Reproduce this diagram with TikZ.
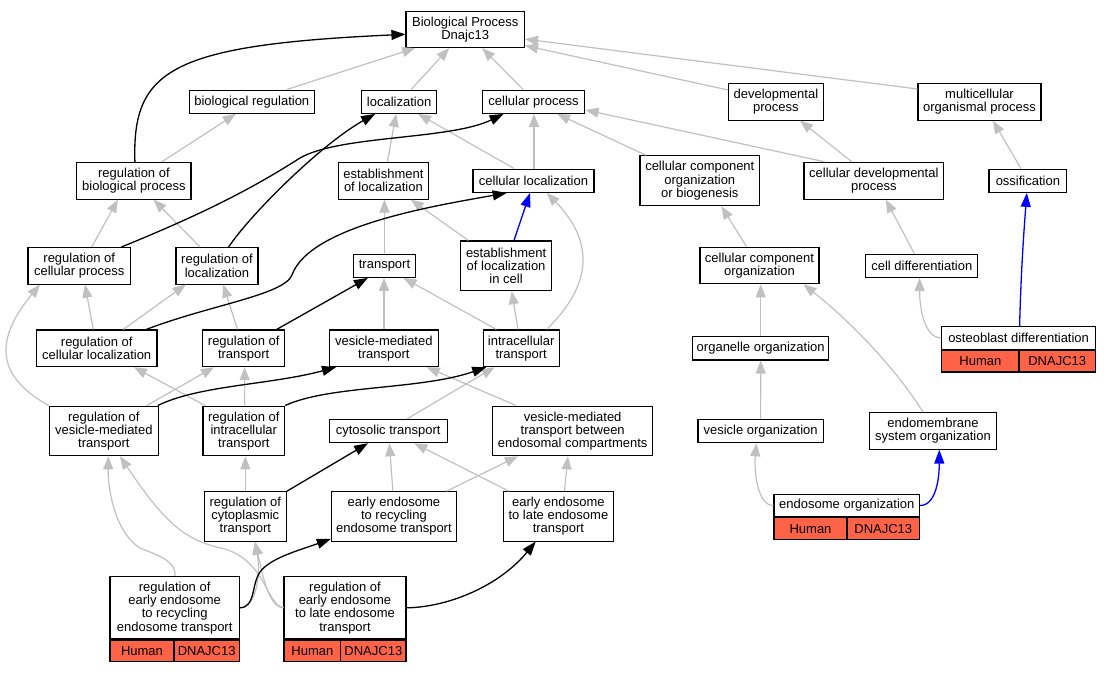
\documentclass[tikz,border=0pt]{standalone}
\usepackage{fontspec}
\setmainfont{Liberation Sans}
\usepackage{xcolor}
\usetikzlibrary{arrows.meta, calc}

\definecolor{isagray}{RGB}{192,192,192}
\definecolor{genered}{RGB}{255,99,71}

\begin{document}
\begin{tikzpicture}[x=1pt, y=-1pt,
    every node/.style={font=\fontsize{13}{13.2}\selectfont},
    term/.style 2 args={draw=black, line width=1.1pt, fill=white, align=center, inner sep=0pt, minimum width=#1, minimum height=#2},
    gene/.style={draw=black, line width=1.1pt, fill=genered, inner sep=0pt, minimum height=21.8},
    isa/.style={draw=isagray, line width=1.2pt, -{Triangle[length=13pt, width=10pt]}},
    reg/.style={draw=black, line width=1.3pt, -{Triangle[length=14pt, width=10pt]}},
    hit/.style={draw=blue, line width=1.3pt, -{Triangle[length=14pt, width=10pt]}}]

                \useasboundingbox (0,0) rectangle (1110,672);

                % terms
                \node[term={118.5}{35.8}] (bp) at (465.2,29.6) {Biological Process\\Dnajc13};
                \node[term={125}{23.3}] (bioreg) at (251.8,101.7) {biological regulation};
                \node[term={74.6}{23.3}] (loc) at (399.1,101.7) {localization};
                \node[term={101.4}{23.3}] (cellproc) at (533.6,101.7) {cellular process};
                \node[term={94.6}{36.7}] (devproc) at (775.9,101.7) {developmental\\process};
                \node[term={123}{36.7}] (multicell) at (979.5,101.7) {multicellular\\organismal process};

                \node[term={114.2}{36.7}] (regbio) at (133.9,180.7) {regulation of\\biological process};
                \node[term={90.4}{36.7}] (estloc) at (383.4,180.7) {establishment\\of localization};
                \node[term={121}{23.3}] (cellloc) at (533.5,180.7) {cellular localization};
                \node[term={119.6}{50}] (ccob) at (699.8,180.7) {cellular component\\organization\\or biogenesis};
                \node[term={139.6}{36.7}] (celldev) at (873.8,180.7) {cellular developmental\\process};
                \node[term={77.8}{23.3}] (ossif) at (1027.9,180.7) {ossification};

                \node[term={102.4}{36.5}] (regcellproc) at (79.2,265.8) {regulation of\\cellular process};
                \node[term={82}{36.5}] (regloc) at (217,265.8) {regulation of\\localization};
                \node[term={61.8}{23.3}] (transport) at (384.5,265.7) {transport};
                \node[term={90.8}{49.7}] (estlocin) at (506.1,265.8) {establishment\\of localization\\in cell};
                \node[term={119}{36.5}] (ccorg) at (759.5,265.5) {cellular component\\organization};
                \node[term={112.2}{23.3}] (celldiff) at (921.8,265.8) {cell differentiation};

                \node[term={120.6}{36.7}] (regcellloc) at (96.7,348.3) {regulation of\\cellular localization};
                \node[term={81.7}{36.7}] (regtransport) at (243.7,348.3) {regulation of\\transport};
                \node[term={108.9}{36.7}] (vesmed) at (383.8,348.3) {vesicle-mediated\\transport};
                \node[term={75.7}{36.7}] (intracell) at (521.2,348.3) {intracellular\\transport};
                \node[term={135.7}{23.3}] (orgorg) at (760.7,348.3) {organelle organization};

                \node[term={108.9}{49.7}] (regvesmed) at (103.8,430.9) {regulation of\\vesicle-mediated\\transport};
                \node[term={81.6}{49.7}] (regintracell) at (243.8,430.9) {regulation of\\intracellular\\transport};
                \node[term={117.7}{23.4}] (cytosolic) at (388.2,431) {cytosolic transport};
                \node[term={159.6}{49.7}] (vesbetween) at (572.7,430.9) {vesicle-mediated\\transport between\\endosomal compartments};
                \node[term={125.3}{23.4}] (vesorg) at (760.6,431) {vesicle organization};
                \node[term={126.8}{36.3}] (endomem) at (933,430.9) {endomembrane\\system organization};

                \node[term={82.1}{49.3}] (regcyto) at (245.3,516.4) {regulation of\\cytoplasmic\\transport};
                \node[term={125}{49.3}] (ee2rec) at (393.9,516.4) {early endosome\\to recycling\\endosome transport};
                \node[term={110.4}{49.3}] (ee2late) at (558.4,516.4) {early endosome\\to late endosome\\transport};

                % annotated terms
                \node[term={153.6}{22.3}] (osteo) at (1018.6,337.9) {osteoblast differentiation};
                \node[gene, minimum width=77.2, anchor=north west] (osteohuman) at (osteo.south west) {Human};
                \node[gene, minimum width=76.4, anchor=north east] (osteogene) at (osteo.south east) {DNAJC13};

                \node[term={145.6}{22.4}] (endoorg) at (846.8,505.5) {endosome organization};
                \node[gene, minimum width=73, anchor=north west] (endohuman) at (endoorg.south west) {Human};
                \node[gene, minimum width=72.6, anchor=north east] (endogene) at (endoorg.south east) {DNAJC13};

                \node[term={129.3}{62.3}] (regee2rec) at (174.65,607.85) {regulation of\\early endosome\\to recycling\\endosome transport};
                \node[gene, minimum width=64, anchor=north west] (rechuman) at (regee2rec.south west) {Human};
                \node[gene, minimum width=65.3, anchor=north east] (recgene) at (regee2rec.south east) {DNAJC13};

                \node[term={122}{62.3}] (regee2late) at (345,607.85) {regulation of\\early endosome\\to late endosome\\transport};
                \node[gene, minimum width=56.7, anchor=north west] (latehuman) at (regee2late.south west) {Human};
                \node[gene, minimum width=65.3, anchor=north east] (lategene) at (regee2late.south east) {DNAJC13};

                % is_a
                \draw[isa] ($ (bioreg.north) + (35,0) $) -- ($ (bp.south) + (-50,0) $);
                \draw[isa] ($ (loc.north) + (12,0) $) -- ($ (bp.south) + (-16,0) $);
                \draw[isa] ($ (cellproc.north) + (-10.5,0) $) -- ($ (bp.south) + (17,0) $);
                \draw[isa] ($ (devproc.west) + (0,-11.7) $) -- ($ (bp.east) + (0,16) $);
                \draw[isa] ($ (multicell.west) + (0,-12.7) $) -- ($ (bp.east) + (0,9.5) $);
                \draw[isa] ($ (regbio.north) + (28,0) $) -- ($ (bioreg.south) + (-16,0) $);
                \draw[isa] ($ (estloc.north) + (4,0) $) -- ($ (loc.south) + (-3,0) $);
                \draw[isa] ($ (cellloc.north) + (-19.5,0) $) -- ($ (loc.south) + (19,0) $);
                \draw[isa] ($ (cellloc.north) + (0.5,0) $) -- ($ (cellproc.south) + (0.4,0) $);
                \draw[isa] ($ (ccob.north) + (-54,0) $) -- ($ (cellproc.south) + (23.5,0) $);
                \draw[isa] ($ (celldev.north) + (-49,0) $) -- ($ (cellproc.east) + (0.7,8.3) $);
                \draw[isa] ($ (celldev.north) + (-22,0) $) -- ($ (devproc.south) + (24,0) $);
                \draw[isa] ($ (ossif.north) + (-7,0) $) -- ($ (multicell.south) + (13.5,0) $);
                \draw[isa] ($ (regcellproc.north) + (12.5,0) $) -- ($ (regbio.south) + (-16,0) $);
                \draw[isa] ($ (regloc.north) + (-17,0) $) -- ($ (regbio.south) + (19.7,0) $);
                \draw[isa] (transport.north) -- ($ (estloc.south) + (1.1,0) $);
                \draw[isa] ($ (estlocin.north) + (-37.8,0) $) -- ($ (estloc.south) + (27.3,0) $);
                \draw[isa] ($ (ccorg.north) + (-13,0) $) -- ($ (ccob.south) + (21.6,0) $);
                \draw[isa] ($ (celldiff.north) + (-7.5,0) $) -- ($ (celldev.south) + (12,0) $);
                \draw[isa] ($ (regcellloc.north) + (-3.4,0) $) -- ($ (regcellproc.south) + (5.8,0) $);
                \draw[isa] ($ (regcellloc.north) + (26.6,0) $) -- ($ (regloc.south) + (-31.3,0) $);
                \draw[isa] ($ (regtransport.north) + (-6.2,0) $) -- ($ (regloc.south) + (6.2,0) $);
                \draw[isa] ($ (vesmed.north) + (0.2,0) $) -- ($ (transport.south) + (-0.5,0) $);
                \draw[isa] ($ (intracell.north) + (-24.8,0) $) -- ($ (transport.south) + (19,0) $);
                \draw[isa] ($ (intracell.north) + (-3.2,0) $) -- ($ (estlocin.south) + (5.6,0) $);
                \draw[isa] ($ (intracell.north) + (25.5,0) $) .. controls (593,284) and (594,241) .. ($ (cellloc.south) + (13.2,0) $);
                \draw[isa] (orgorg.north) -- ($ (ccorg.south) + (1.2,0) $);
                \draw[isa] ($ (endomem.north) + (-9.8,0) $) .. controls (894,366) and (848.6,320) .. ($ (ccorg.south) + (44,0) $);
                \draw[isa] (osteo.west) .. controls (925,337.9) and (919.6,310) .. ($ (celldiff.south) + (-2.2,0) $);
                \draw[isa] (regvesmed.north west) .. controls (-12.5,372) and (1.6,331) .. ($ (regcellproc.south) + (-39.2,0) $);
                \draw[isa] ($ (regvesmed.north) + (43,0) $) -- ($ (regtransport.south) + (-29.7,0) $);
                \draw[isa] ($ (regintracell.north) + (-38.8,0) $) -- ($ (regcellloc.south) + (37.3,0) $);
                \draw[isa] ($ (regintracell.north) + (0.8,0) $) -- ($ (regtransport.south) + (0.9,0) $);
                \draw[isa] ($ (cytosolic.north) + (19,0) $) -- ($ (intracell.south) + (-26.6,0) $);
                \draw[isa] ($ (vesbetween.north) + (-56.7,0) $) -- ($ (vesmed.south) + (43,0) $);
                \draw[isa] (vesorg.north) -- (orgorg.south);
                \draw[isa] (regcyto.north) -- ($ (regintracell.south) + (1.5,0) $);
                \draw[isa] ($ (ee2rec.north) + (-1,0) $) -- ($ (cytosolic.south) + (1.1,0) $);
                \draw[isa] ($ (ee2rec.north) + (52.5,0) $) -- ($ (vesbetween.south) + (-54.8,0) $);
                \draw[isa] ($ (ee2late.north) + (-49.5,0) $) -- ($ (cytosolic.south) + (26,0) $);
                \draw[isa] ($ (ee2late.north) + (6,0) $) -- ($ (vesbetween.south) + (-4.8,0) $);
                \draw[isa] (endoorg.west) .. controls (757,505.5) and (754,470) .. ($ (vesorg.south) + (-4.2,0) $);
                \draw[isa] ($ (regee2rec.north) + (0.5,0) $) .. controls (175,562) and (165,558) .. (140,548) .. controls (115,532) and (108,490) .. ($ (regvesmed.south) + (4.5,0) $);
                \draw[isa] (regee2late.west) .. controls (266,604) and (266,562) .. (225,549) .. controls (188,541) and (168,528) .. ($ (regvesmed.south) + (16.2,0) $);
                \draw[isa] (regee2rec.east) .. controls (256,608) and (261,575) .. ($ (regcyto.south) + (9.7,0) $);
                \draw[isa] (regee2late.west) .. controls (268,607) and (262,572) .. ($ (regcyto.south) + (9.7,0) $);

                % regulates
                \draw[reg] ($ (regbio.north) + (1,0) $) .. controls (132,70) and (170,45) .. ($ (bp.west) + (0,4.7) $);
                \draw[reg] ($ (regloc.north) + (11.6,0) $) .. controls (250,215) and (320,145) .. ($ (loc.south) + (-24,0) $);
                \draw[reg] ($ (regcellproc.north) + (42.2,0) $) .. controls (200,215) and (250,190) .. (300,158) .. controls (340,135) and (450,140) .. ($ (cellproc.south) + (-30,0) $);
                \draw[reg] ($ (regcellloc.north) + (49.7,0) $) .. controls (210,305) and (284,295) .. (292,275) .. controls (310,225) and (440,205) .. ($ (cellloc.south) + (-26.8,0) $);
                \draw[reg] ($ (regtransport.north) + (33,0) $) -- ($ (transport.south) + (-16.6,0) $);
                \draw[reg] ($ (regvesmed.north east) + (-1,0) $) .. controls (200,385) and (270,385) .. ($ (vesmed.south) + (-47.8,0) $);
                \draw[reg] (regintracell.north east) .. controls (330,385) and (420,390) .. ($ (intracell.south) + (-35,0) $);
                \draw[reg] (regcyto.north east) -- ($ (cytosolic.south) + (-20.2,0) $);
                \draw[reg] (regee2rec.east) .. controls (256,607) and (251,585) .. (260,572) .. controls (270,558) and (300,550) .. ($ (ee2rec.south west) + (0,-2.7) $);
                \draw[reg] (regee2late.east) .. controls (450,607) and (500,585) .. ($ (ee2late.south) + (-22.7,0) $);

                % direct annotation
                \draw[hit] ($ (estlocin.north) + (7.9,0) $) -- ($ (cellloc.south) + (-3.5,0) $);
                \draw[hit] ($ (osteo.north) + (1,0) $) .. controls (1021,270) and (1024,230) .. ($ (ossif.south) + (-1.1,0) $);
                \draw[hit] (endoorg.east) .. controls (937,505.5) and (939.3,475) .. ($ (endomem.south) + (6.3,0) $);

\end{tikzpicture}
\end{document}
